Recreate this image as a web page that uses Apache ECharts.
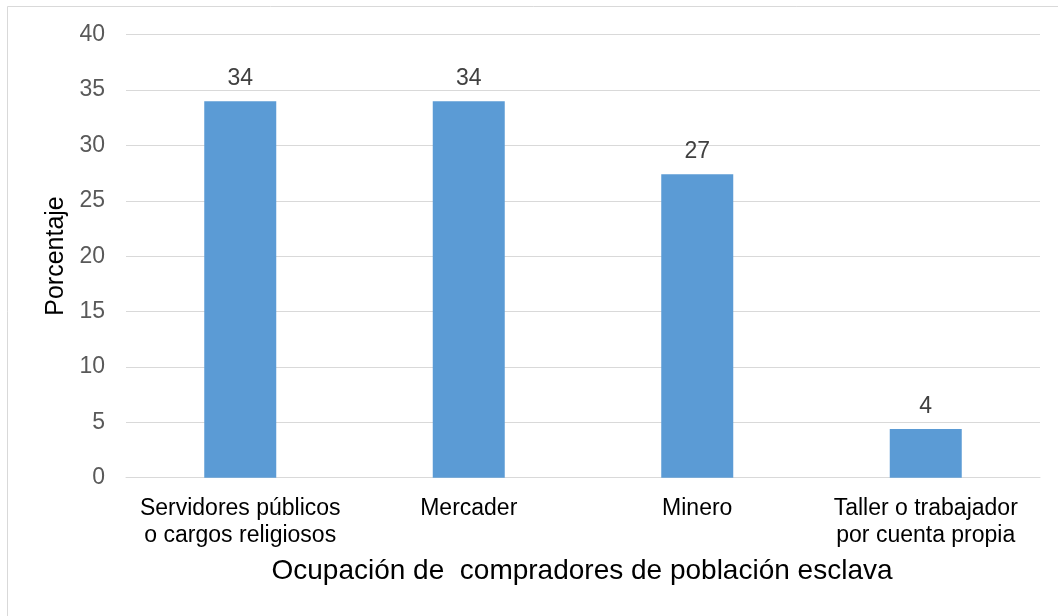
<!DOCTYPE html>
<html>
<head>
<meta charset="utf-8">
<script src="https://cdn.jsdelivr.net/npm/echarts@6/dist/echarts.min.js"></script>
<style>
html,body{margin:0;padding:0;background:#fff;}
#chart{width:1058px;height:616px;}
</style>
</head>
<body>
<div id="chart"></div>
<script>
const categories = ['Servidores públicos\no cargos religiosos', 'Mercader', 'Minero', 'Taller o trabajador\npor cuenta propia'];
const values = [34.0, 34.0, 27.4, 4.4];
const yTicks = { min: 0, max: 40, interval: 5 };
const xTitle = 'Ocupación de  compradores de población esclava';
const yTitle = 'Porcentaje';

const FONT = '"Liberation Sans", Arial, sans-serif';
const chart = echarts.init(document.getElementById('chart'), null, { renderer: 'canvas' });
chart.setOption({
  backgroundColor: '#ffffff',
  animation: false,
  grid: { left: 126, right: 18, top: 34.7, bottom: 138.3, containLabel: false },
  xAxis: {
    type: 'category',
    data: categories,
    axisLine: { show: true, lineStyle: { color: '#D9D9D9', width: 1 } },
    axisTick: { show: false },
    axisLabel: { color: '#000000', fontSize: 23, fontFamily: FONT, lineHeight: 27, margin: 17, interval: 0 }
  },
  yAxis: {
    type: 'value',
    min: yTicks.min, max: yTicks.max, interval: yTicks.interval,
    axisLine: { show: false },
    axisTick: { show: false },
    splitLine: { show: true, lineStyle: { color: '#D9D9D9', width: 1 } },
    axisLabel: { color: '#595959', fontSize: 23, fontFamily: FONT, margin: 21 }
  },
  series: [{
    type: 'bar',
    data: values,
    barWidth: 72,
    itemStyle: { color: '#5B9BD5' },
    label: {
      show: true, position: 'top', distance: 11,
      color: '#404040', fontSize: 23, fontFamily: FONT,
      formatter: p => String(Math.round(p.value))
    }
  }],
  graphic: [
    { type: 'rect', shape: { x: 7.5, y: 6.5, width: 1200, height: 800 }, style: { fill: 'none', stroke: '#D9D9D9', lineWidth: 1 }, silent: true, z: -1 },
    { type: 'text', style: { text: xTitle, fontSize: 28, fontFamily: FONT, fill: '#000000', textAlign: 'center', textVerticalAlign: 'middle' }, x: 582, y: 571 },
    { type: 'text', style: { text: yTitle, fontSize: 25, fontFamily: FONT, fill: '#000000', textAlign: 'center', textVerticalAlign: 'middle' }, x: 56, y: 256, rotation: Math.PI / 2 }
  ]
});
</script>
</body>
</html>
